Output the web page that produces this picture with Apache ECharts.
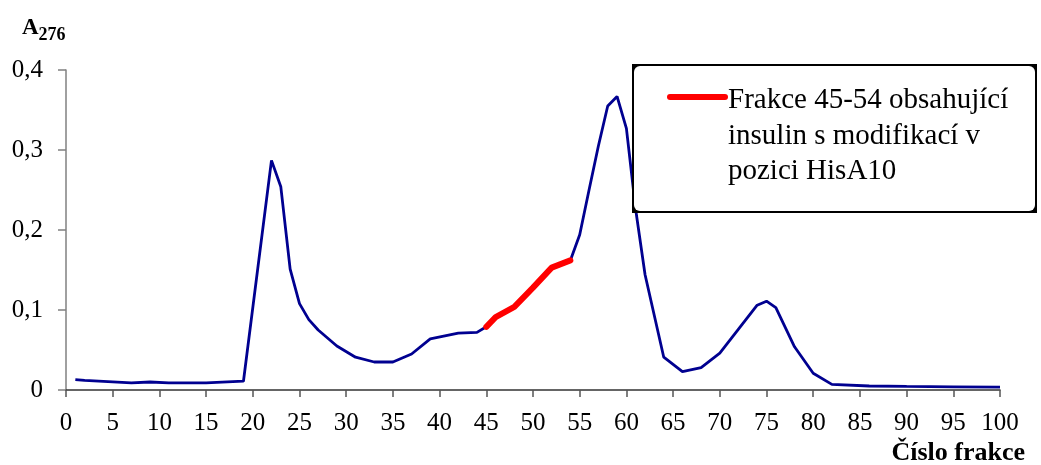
<!DOCTYPE html>
<html>
<head>
<meta charset="utf-8">
<script src="https://cdn.jsdelivr.net/npm/echarts@6/dist/echarts.min.js"></script>
<style>html,body{margin:0;padding:0;background:#fff}#c{width:1041px;height:465px}</style>
</head>
<body>
<div id="c"></div>
<script>
var fractions = [1,2,7,9,11,15,19,22,23,24,25,26,27,29,31,33,35,37,39,42,44,45,46,48,50,52,54,55,56,57,58,59,60,61,62,64,66,68,70,72,74,75,76,78,80,82,86,90,95,100];
var absorbance = [0.013,0.012,0.009,0.010,0.009,0.009,0.011,0.287,0.254,0.151,0.108,0.088,0.075,0.055,0.041,0.035,0.035,0.045,0.064,0.071,0.072,0.079,0.091,0.104,0.128,0.153,0.162,0.194,0.250,0.305,0.355,0.367,0.327,0.225,0.144,0.041,0.023,0.028,0.046,0.076,0.106,0.111,0.103,0.054,0.021,0.007,0.005,0.0045,0.004,0.0035];
var hisFrom = 45, hisTo = 54;
var xTicks = {min:0, max:100, step:5};
var yTicks = {min:0, max:0.4, step:0.1};
var legendText = ['Frakce 45-54 obsahující', 'insulin s modifikací v', 'pozici HisA10'];

var allData = fractions.map(function(f,i){return [f, absorbance[i]];});
var hisData = allData.filter(function(d){return d[0]>=hisFrom && d[0]<=hisTo;});

var font = '"Liberation Serif", "Times New Roman", serif';
var chart = echarts.init(document.getElementById('c'), null, {renderer:'canvas'});
chart.setOption({
  animation:false,
  grid:{left:66, right:41, top:70, bottom:75},
  xAxis:{type:'value', min:xTicks.min, max:xTicks.max, interval:xTicks.step,
    axisLine:{lineStyle:{color:'#333', width:1.5}},
    axisTick:{inside:false, length:7, lineStyle:{color:'#555', width:1.5}},
    axisLabel:{color:'#000', fontFamily:font, fontSize:25, margin:21},
    splitLine:{show:false}},
  yAxis:{type:'value', min:yTicks.min, max:yTicks.max, interval:yTicks.step,
    axisLine:{show:true, lineStyle:{color:'#808080', width:1.5}},
    axisTick:{show:true, length:8, lineStyle:{color:'#808080', width:1.5}},
    axisLabel:{color:'#000', fontFamily:font, fontSize:25, margin:23,
      formatter:function(v){return v===0?'0':v.toFixed(1).replace('.',',');}},
    splitLine:{show:false}},
  series:[
    {type:'line', data:allData, showSymbol:false, lineStyle:{color:'#000090', width:2.8}, z:2},
    {type:'line', data:hisData, showSymbol:false, lineStyle:{color:'#ff0000', width:6, cap:'round'}, z:3}
  ],
  graphic:[
    {type:'text', left:22, top:17, style:{
      text:'{a|A}{s|276}', rich:{
        a:{fontFamily:font, fontWeight:'bold', fontSize:23, fill:'#000'},
        s:{fontFamily:font, fontWeight:'bold', fontSize:18, fill:'#000', verticalAlign:'bottom', padding:[14,0,0,0]}}}},
    {type:'text', right:16, top:440, style:{text:'Číslo frakce', fontFamily:font, fontWeight:'bold', fontSize:26, fill:'#000'}},
    {type:'rect', shape:{x:632, y:64, width:405, height:149}, style:{fill:'#000'}, z:10},
    {type:'rect', shape:{x:634, y:66, width:401, height:145, r:6}, style:{fill:'#fff'}, z:11},
    {type:'line', shape:{x1:670, y1:97, x2:725, y2:97}, style:{stroke:'#ff0000', lineWidth:6, lineCap:'round'}, z:12},
    {type:'text', left:728, top:83, style:{text:legendText.join('\n'), fontFamily:font, fontSize:29, lineHeight:35.5, fill:'#000'}, z:12}
  ]
});
</script>
</body>
</html>
